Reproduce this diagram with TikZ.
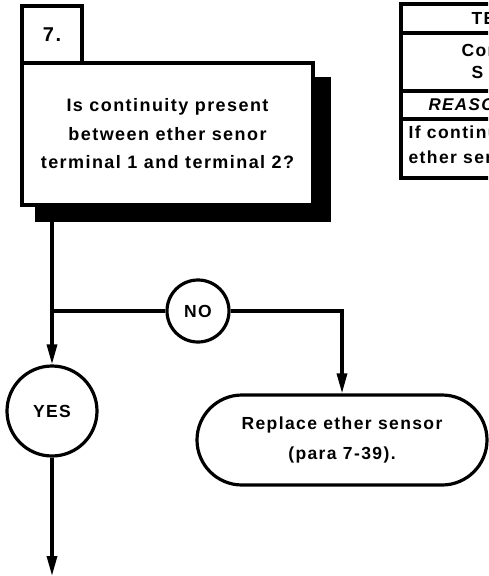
\documentclass[tikz,border=0pt]{standalone}
\usepackage{fontspec}
\setmainfont{Liberation Sans}
\newfontfamily\chartfont[LetterSpace=8]{Liberation Sans}
\usetikzlibrary{arrows.meta}

\begin{document}
\begin{tikzpicture}[x=1pt,y=1pt,yscale=-1,line width=3.2pt,
  font=\chartfont\bfseries,
  every node/.style={inner sep=0pt},
  flow/.style={-{Triangle[length=20pt,width=10pt]}},
  ring/.style={draw,circle,fill=white,font=\chartfont\bfseries\fontsize{17.5}{18}\selectfont},
  tabtext/.style={anchor=west,font=\chartfont\bfseries\fontsize{17.5}{18}\selectfont}]

\useasboundingbox (0,0) rectangle (488,576);

% question box with its shadow
\fill (35,77) rectangle (331,222);
\draw (167.5,134) node (q7) [draw,fill=white,minimum width=291,minimum height=142,align=center,
    font=\chartfont\bfseries\fontsize{18}{28.5}\selectfont]
    {Is continuity present\\between ether senor\\terminal 1 and terminal 2?};
\draw (52,34.5) node (num) [draw,fill=white,minimum width=60,minimum height=57,
    font=\chartfont\bfseries\fontsize{20}{20}\selectfont] {7.};

\draw (198,311) node (no) [ring,minimum size=62] {NO};
\draw (52,411) node (yes) [ring,minimum size=90] {YES};
\draw (342,440) node (repl) [draw,rounded corners=45,minimum width=290,minimum height=90,align=center,
    font=\chartfont\bfseries\fontsize{17.5}{30}\selectfont] {Replace ether sensor\\(para 7-39).};

\coordinate (split) at (yes.north |- no.west);
\coordinate (exit) at (52,576);

\draw[flow] (q7.south -| yes.north) -- (yes.north);
\draw (split) -- (no.west);
\draw[flow] (no.east) -| (repl.north);
\draw[flow] (yes.south) -- (exit);

% table at the top right
\begin{scope}
\clip (0,0) rectangle (488,576);
\draw[line width=3.6pt] (401,4) rectangle (520,178);
\draw (401,33) -- (520,33);
\draw (401,91) -- (520,91);
\draw (401,119) -- (520,119);
\draw (470,18) node (t1) [tabtext] {TE};
\draw (460,50) node (t2) [tabtext] {Con};
\draw (470,72) node (t3) [tabtext] {S};
\draw (427,105) node (t4) [tabtext,font=\chartfont\bfseries\itshape\fontsize{17}{18}\selectfont] {REASON};
\draw (407,134) node (t5) [tabtext] {If continuity};
\draw (407,157) node (t6) [tabtext] {ether sensor};
\end{scope}

\end{tikzpicture}
\end{document}
